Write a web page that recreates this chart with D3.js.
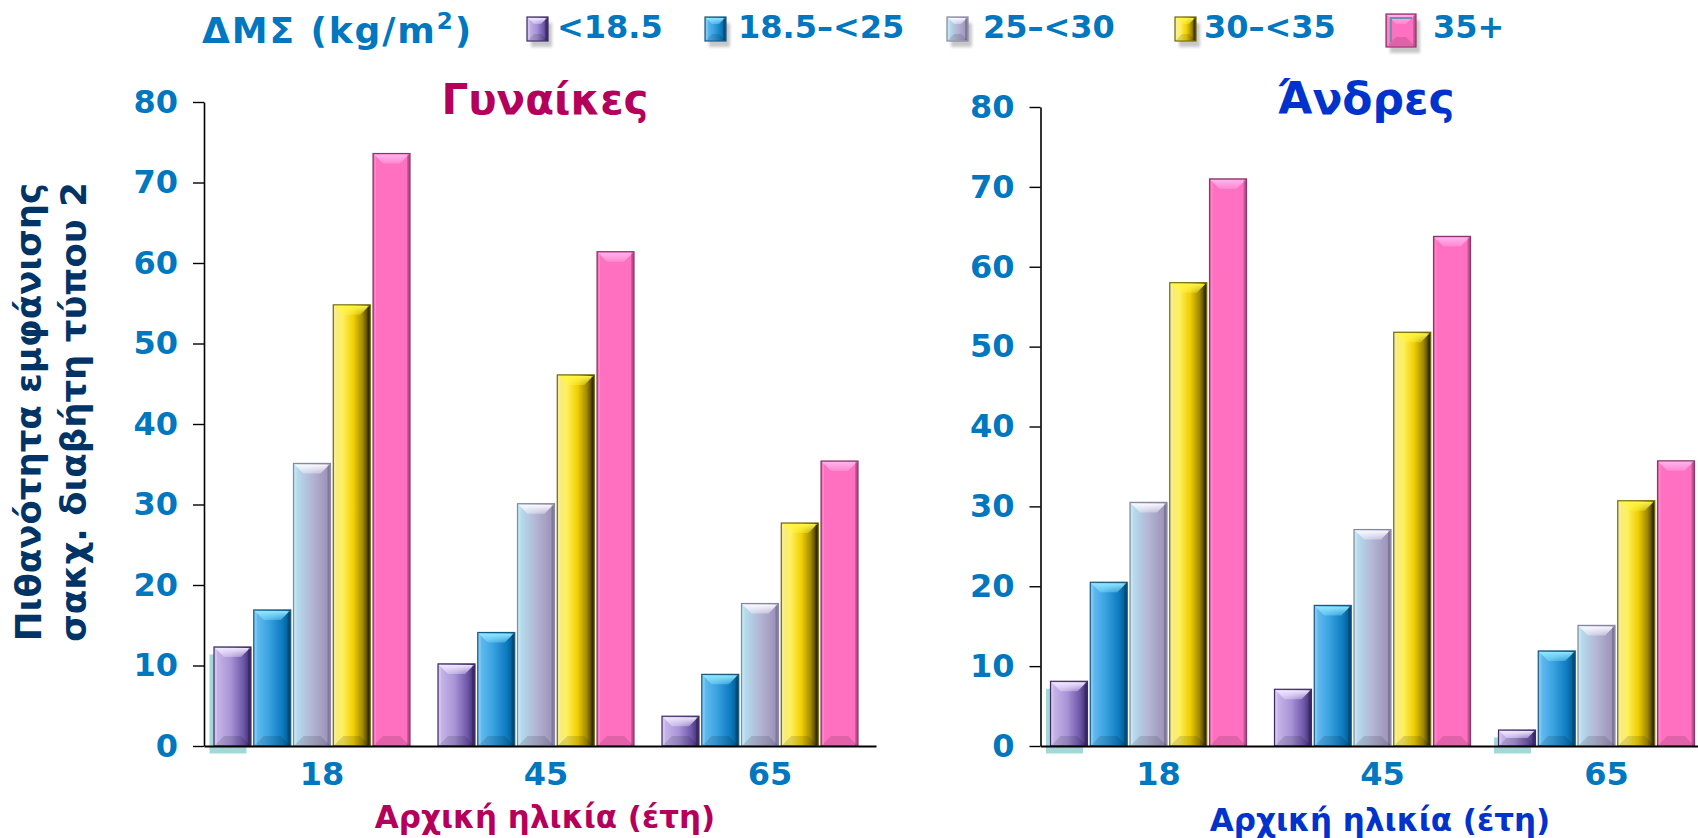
<!DOCTYPE html>
<html>
<head>
<meta charset="utf-8">
<script src="https://cdn.jsdelivr.net/npm/d3@7"></script>
<style>
  html, body { margin: 0; padding: 0; background: #ffffff; }
  svg { display: block; }
  .wide { font-family: "DejaVu Sans", Verdana, sans-serif; font-weight: bold; }
</style>
</head>
<body>
<svg id="chart" width="1698" height="838"></svg>
<script>
// Age at baseline (x categories) and BMI classes (series)
const ageGroups = ["18", "45", "65"];
const bmiGroups = ["<18.5", "18.5–<25", "25–<30", "30–<35", "35+"];

// Lifetime risk of type 2 diabetes (%), one row per age group, one value per BMI class
const womenValues = [
  [12.3, 16.9, 35.1, 54.8, 73.6],
  [10.2, 14.1, 30.1, 46.1, 61.4],
  [3.7, 8.9, 17.7, 27.7, 35.4]
];
const menValues = [
  [8.1, 20.5, 30.5, 58.0, 71.0],
  [7.1, 17.6, 27.1, 51.8, 63.8],
  [2.0, 11.9, 15.1, 30.7, 35.7]
];

const yTicks = [0, 10, 20, 30, 40, 50, 60, 70, 80];
const panelTitles = ["Γυναίκες", "Άνδρες"];
const xAxisTitle = "Αρχική ηλικία (έτη)";
const yAxisTitle = ["Πιθανότητα εμφάνισης", "σακχ. διαβήτη τύπου 2"];
const legendTitle = "ΔΜΣ (kg/m";

// age groups whose first bar carries a teal drop shadow
const womenShadowed = ["18"];
const menShadowed = ["18", "65"];

// ---- styling ----
const tickBlue = "#0077be";
const seriesStyle = [
  { id: "s0", stops: [[0, "#cdbcec"], [0.45, "#a894d6"], [0.8, "#6e56a8"], [1, "#3a2868"]], top: "#f1e8ff", stroke: "#3b2b66" },
  { id: "s1", stops: [[0, "#6cc0f2"], [0.4, "#3aa3e2"], [0.8, "#0b78bd"], [1, "#00507f"]], top: "#8fe6ff", stroke: "#17587f" },
  { id: "s2", stops: [[0, "#b6e4f3"], [0.5, "#b3b6d4"], [1, "#9a8cb6"]], top: "#fbf8ff", stroke: "#85899e" },
  { id: "s3", stops: [[0, "#f3e98c"], [0.25, "#fff060"], [0.55, "#f0d000"], [0.8, "#a08800"], [1, "#282000"]], top: "#fff645", stroke: "#6e6600" },
  { id: "s4", stops: [[0, "#d85299"], [0.07, "#ff70c0"], [0.93, "#ff70c0"], [1, "#b84484"]], top: "#ffb4ef", stroke: "#8a3566" }
];
// legend layout: left edge of each swatch and gap to its label
const legendSlotX = [527, 705, 947, 1175, 1386];
const legendLabelGap = [9, 12, 15, 8, 17];

const svg = d3.select("#chart");
const defs = svg.append("defs");

seriesStyle.forEach(s => {
  const g = defs.append("linearGradient").attr("id", "grad-" + s.id)
    .attr("x1", "0").attr("x2", "1").attr("y1", "0").attr("y2", "0");
  s.stops.forEach(([o, c]) => g.append("stop").attr("offset", o).attr("stop-color", c));
  const t = defs.append("linearGradient").attr("id", "top-" + s.id)
    .attr("x1", "0").attr("x2", "0").attr("y1", "0").attr("y2", "1");
  t.append("stop").attr("offset", 0).attr("stop-color", s.top).attr("stop-opacity", 1);
  t.append("stop").attr("offset", 1).attr("stop-color", s.top).attr("stop-opacity", 0.35);
});
const blur = defs.append("filter").attr("id", "soft").attr("x", "-50%").attr("y", "-50%").attr("width", "200%").attr("height", "200%");
blur.append("feGaussianBlur").attr("stdDeviation", 1.5);

// one bevelled 3D bar
function drawBar(g, x, y, w, h, s) {
  const b = Math.min(10, h / 2, w / 3);
  g.append("rect").attr("x", x).attr("y", y).attr("width", w).attr("height", h)
    .attr("fill", `url(#grad-${s.id})`).attr("stroke", s.stroke).attr("stroke-width", 1.2);
  // top bevel
  g.append("path")
    .attr("d", `M${x + 1},${y + 1} L${x + w - 1},${y + 1} L${x + w - b},${y + b} L${x + b},${y + b} Z`)
    .attr("fill", `url(#top-${s.id})`);
  // bottom bevel
  g.append("path")
    .attr("d", `M${x + 1},${y + h - 1} L${x + w - 1},${y + h - 1} L${x + w - b},${y + h - b} L${x + b},${y + h - b} Z`)
    .attr("fill", "#000").attr("opacity", 0.12);
  // side edges
  g.append("rect").attr("x", x + 1).attr("y", y + 1).attr("width", 2).attr("height", Math.max(0, h - 2))
    .attr("fill", "#fff").attr("opacity", 0.18);
  g.append("rect").attr("x", x + w - 3).attr("y", y + 1).attr("width", 2).attr("height", Math.max(0, h - 2))
    .attr("fill", "#000").attr("opacity", 0.18);
}

function drawPanel(cfg) {
  const g = svg.append("g");
  const x0 = d3.scaleBand().domain(ageGroups).range([cfg.left, cfg.left + 672]);
  const x1 = d3.scaleBand().domain(bmiGroups).range([10, 206]).paddingInner(0.07);
  const y = d3.scaleLinear().domain([0, 80]).range([746, cfg.top]);

  // teal drop shadows
  cfg.shadowed.forEach(a => {
    const i = ageGroups.indexOf(a);
    const v = cfg.values[i][0];
    g.append("rect")
      .attr("x", x0(a) + x1(bmiGroups[0]) - 4.5)
      .attr("y", y(v) + 7.5)
      .attr("width", x1.bandwidth())
      .attr("height", y(0) - y(v))
      .attr("fill", "#a2d8d5");
  });

  // bars
  ageGroups.forEach((a, i) => {
    const gg = g.append("g");
    bmiGroups.forEach((k, j) => {
      const v = cfg.values[i][j];
      drawBar(gg, x0(a) + x1(k), y(v), x1.bandwidth(), y(0) - y(v), seriesStyle[j]);
    });
  });

  // y axis
  const ya = g.append("g").attr("transform", `translate(${cfg.left},0)`)
    .call(d3.axisLeft(y).tickValues(yTicks).tickSize(11).tickSizeOuter(0).tickPadding(15));
  ya.select(".domain").attr("stroke", "#000").attr("stroke-width", 1.6);
  ya.selectAll(".tick line").attr("stroke", "#000").attr("stroke-width", 1.4);
  ya.selectAll(".tick text").attr("class", "wide").attr("font-size", 32).attr("fill", tickBlue);

  // x axis
  const xa = g.append("g").attr("transform", `translate(0,${y(0)})`)
    .call(d3.axisBottom(x0).tickSize(0).tickPadding(16.5));
  xa.select(".domain").attr("stroke", "#000").attr("stroke-width", 1.8);
  xa.selectAll(".tick text").attr("class", "wide").attr("font-size", 32).attr("fill", tickBlue).attr("dx", 6);

  // panel title
  g.append("text").attr("class", "wide").attr("x", cfg.titleX).attr("y", 114)
    .attr("text-anchor", "middle").attr("font-size", cfg.titleSize).attr("fill", cfg.color).text(cfg.title);

  // x axis title
  g.append("text").attr("class", "wide").attr("x", cfg.xTitleX).attr("y", cfg.xTitleY)
    .attr("text-anchor", "middle").attr("font-size", 31).attr("fill", cfg.color).text(xAxisTitle);
}

drawPanel({ left: 204, top: 102, values: womenValues, shadowed: womenShadowed,
  title: panelTitles[0], titleX: 545, titleSize: 42, color: "#b5005b", xTitleX: 545, xTitleY: 828 });
drawPanel({ left: 1040.5, top: 107, values: menValues, shadowed: menShadowed,
  title: panelTitles[1], titleX: 1366, titleSize: 44, color: "#0033cc", xTitleX: 1380, xTitleY: 831 });

// y axis title (two lines, rotated)
const yt = svg.append("g").attr("transform", "translate(0,412) rotate(-90)");
yAxisTitle.forEach((t, i) => {
  yt.append("text").attr("class", "wide").attr("x", 0).attr("y", 41 + i * 45)
    .attr("text-anchor", "middle").attr("font-size", 35.5).attr("fill", "#003366").text(t);
});

// legend
const lg = svg.append("g");
const lt = lg.append("text").attr("class", "wide").attr("x", 202).attr("y", 43)
  .attr("font-size", 36).attr("letter-spacing", 1.9).attr("fill", tickBlue);
lt.append("tspan").text(legendTitle);
lt.append("tspan").attr("font-size", 23).attr("dy", -14).text("2");
lt.append("tspan").attr("dy", 14).text(")");

bmiGroups.forEach((k, j) => {
  const s = seriesStyle[j];
  const lx = legendSlotX[j];
  const item = lg.append("g");
  const w = j === 4 ? 30 : 21, h = j === 4 ? 33 : 24, sy = j === 4 ? 14 : 17;
  item.append("rect").attr("x", lx + 4).attr("y", sy + 6).attr("width", w).attr("height", h)
    .attr("fill", "#9a9a9a").attr("opacity", 0.55).attr("filter", "url(#soft)");
  drawBar(item, lx, sy, w, h, s);
  if (j === 4) {
    item.append("path").attr("d", `M${lx + 5},${sy + h - 5} L${lx + 5},${sy + 4} L${lx + w - 4},${sy + 4}`)
      .attr("fill", "none").attr("stroke", "#6d8fb0").attr("stroke-width", 2);
  }
  item.append("text").attr("class", "wide").attr("x", lx + w + legendLabelGap[j]).attr("y", 38)
    .attr("font-size", 32).attr("fill", tickBlue).text(k);
});
</script>
</body>
</html>
